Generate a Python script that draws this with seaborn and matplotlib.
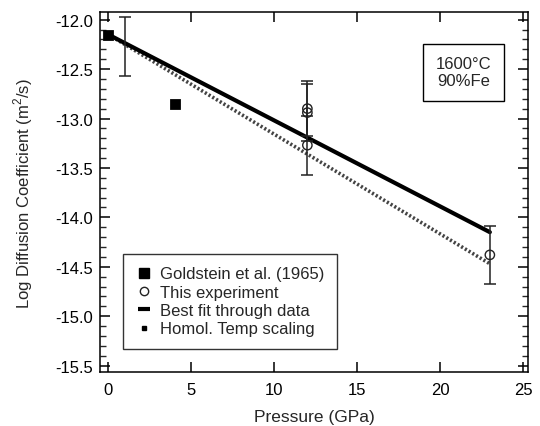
import matplotlib
matplotlib.use("Agg")
import matplotlib.pyplot as plt
from matplotlib.lines import Line2D
from matplotlib.ticker import MultipleLocator
import seaborn as sns
import pandas as pd

# data
gold_p = [0, 4]
gold_logd = [-12.15, -12.85]

exp_p = [12, 12, 12, 23]
exp_logd = [-12.90, -12.94, -13.27, -14.38]
exp_err = [0.28, 0.29, 0.30, 0.29]

# error bar at 1 GPa without a visible marker
bar_p = [1]
bar_logd = [-12.27]
bar_err = [0.295]

fit_p = [0, 23]
fit_logd = [-12.15, -14.15]

homol_p = [0, 23]
homol_logd = [-12.15, -14.47]

ytick_vals = [-12.0, -12.5, -13.0, -13.5, -14.0, -14.5, -15.0, -15.5]
ytick_text = ["-12.0", "-12.5", "-13.0", "-13.5", "-14.0", "-14.5", "-15.0", "-15.5"]

sns.set_style("ticks")
plt.rcParams["font.family"] = ["Liberation Sans", "DejaVu Sans"]
plt.rcParams["mathtext.fontset"] = "custom"
plt.rcParams["mathtext.rm"] = "Liberation Sans"

fig = plt.figure(figsize=(5.4, 4.27), dpi=100)
ax = fig.add_axes([0.1852, 0.1265, 0.7926, 0.8424])

df_fit = pd.DataFrame({"p": fit_p, "d": fit_logd})
df_hom = pd.DataFrame({"p": homol_p, "d": homol_logd})
sns.lineplot(data=df_hom, x="p", y="d", ax=ax, color="#444444",
             linewidth=2.6, linestyle=(0, (0.6, 0.6)), zorder=2)
sns.lineplot(data=df_fit, x="p", y="d", ax=ax, color="black",
             linewidth=3.0, zorder=3)

ax.errorbar(exp_p, exp_logd, yerr=exp_err, fmt="none", ecolor="#222222",
            elinewidth=1.1, capsize=4, capthick=1.1, zorder=4)
ax.errorbar(bar_p, bar_logd, yerr=bar_err, fmt="none", ecolor="#222222",
            elinewidth=1.1, capsize=4, capthick=1.1, zorder=4)

sns.scatterplot(x=exp_p, y=exp_logd, ax=ax, marker="o", s=45,
                facecolor="none", edgecolor="#222222", linewidth=1.0, zorder=5)
sns.scatterplot(x=gold_p, y=gold_logd, ax=ax, marker="s", s=50,
                color="black", edgecolor="black", zorder=6)

ax.set_xlim(-0.5, 25.3)
ax.set_ylim(-15.565, -11.925)
ax.xaxis.set_major_locator(MultipleLocator(5))
ax.yaxis.set_minor_locator(MultipleLocator(0.1))
ax.set_yticks(ytick_vals)
ax.set_yticklabels(ytick_text)
ax.tick_params(axis="both", which="major", direction="in", length=7, width=1.1,
               top=True, right=True, labelsize=12, pad=5, colors="black")
ax.tick_params(axis="x", which="major", pad=7)
ax.tick_params(axis="y", which="minor", direction="in", length=4, width=1.0,
               left=True, right=True)
for s in ax.spines.values():
    s.set_linewidth(1.1)
    s.set_color("black")

ax.set_xlabel("Pressure (GPa)", fontsize=12.5)
ax.set_ylabel("Log Diffusion Coefficient (m$^2$/s)", fontsize=12)
ax.xaxis.set_label_coords(0.5, -0.103)
ax.yaxis.set_label_coords(-0.152, 0.5)

ax.text(0.85, 0.833, "1600\u00b0C\n90%Fe", transform=ax.transAxes,
        ha="center", va="center", fontsize=12, linespacing=1.15,
        bbox=dict(boxstyle="square,pad=0.75", facecolor="white",
                  edgecolor="black", linewidth=1.0))

handles = [
    Line2D([], [], linestyle="none", marker="s", markersize=7,
           color="black"),
    Line2D([], [], linestyle="none", marker="o", markersize=6,
           markerfacecolor="none", markeredgecolor="#222222"),
    Line2D([], [], linestyle="none", marker="_", markersize=8,
           markeredgewidth=3, color="black"),
    Line2D([], [], linestyle="none", marker="s", markersize=2.2,
           color="black"),
]
labels = ["Goldstein et al. (1965)", "This experiment",
          "Best fit through data", "Homol. Temp scaling"]
leg = ax.legend(handles, labels, loc="lower left",
                bbox_to_anchor=(0.054, 0.064), borderaxespad=0,
                fontsize=12, frameon=True, fancybox=False,
                handlelength=1.0, handletextpad=0.45, labelspacing=0.2,
                borderpad=0.75)
leg.get_frame().set_edgecolor("black")
leg.get_frame().set_linewidth(1.0)

fig.savefig("out.png", dpi=100)
